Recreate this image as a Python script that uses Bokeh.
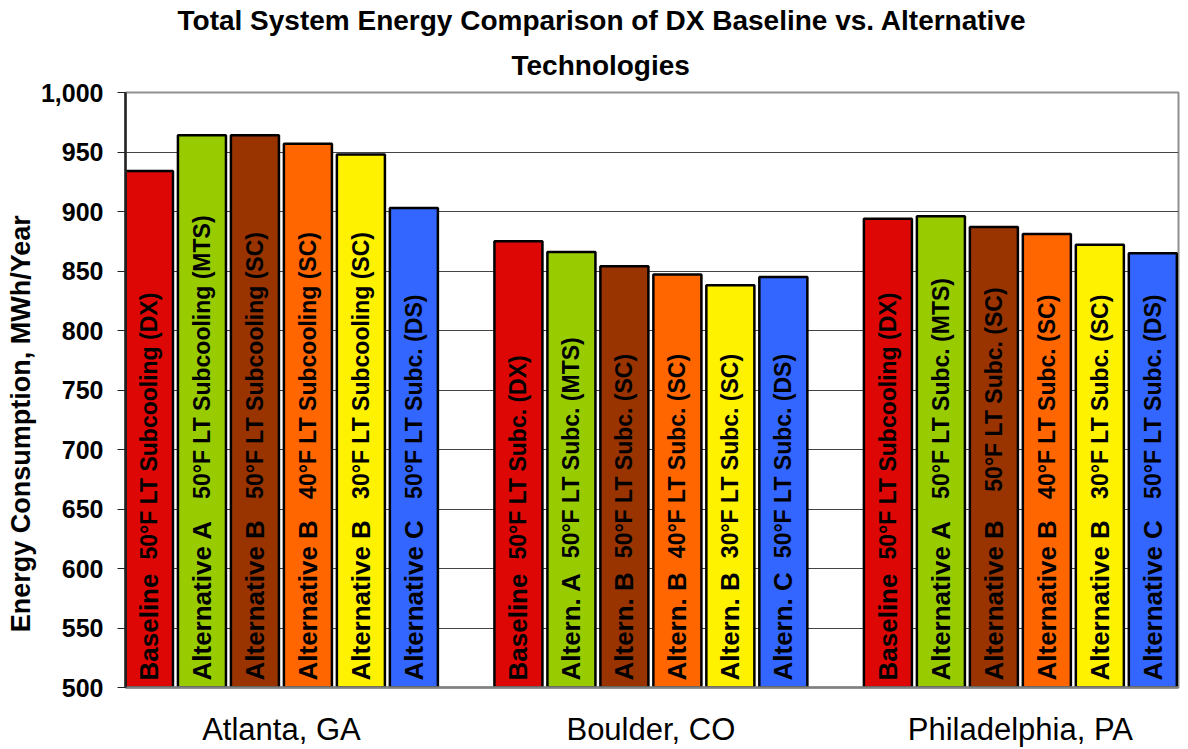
import numpy as np
from bokeh.plotting import figure
from bokeh.models import ColumnDataSource, Range1d, FixedTicker, NumeralTickFormatter, Title
from bokeh.core.properties import value
from bokeh.embed import file_html
from bokeh.resources import INLINE

# ---------------- data ----------------
cities = ["Atlanta, GA", "Boulder, CO", "Philadelphia, PA"]
baseline_dx = [934, 875, 894]
alt_a_mts = [964, 866, 896]
alt_b_50_sc = [964, 854, 887]
alt_b_40_sc = [957, 847, 881]
alt_b_30_sc = [948, 838, 872]
alt_c_ds = [903, 845, 865]
series_values = [baseline_dx, alt_a_mts, alt_b_50_sc, alt_b_40_sc, alt_b_30_sc, alt_c_ds]
series_colors = ["#DD0806", "#99CC00", "#993300", "#FF6600", "#FFF200", "#3366FF"]

main_labels = [
    ["Baseline", "Alternative  A", "Alternative  B", "Alternative  B", "Alternative  B", "Alternative  C"],
    ["Baseline", "Altern. A", "Altern. B", "Altern. B", "Altern. B", "Altern. C"],
    ["Baseline", "Alternative  A", "Alternative   B", "Alternative  B", "Alternative  B", "Alternative  C"],
]
sub_labels = [
    ["50°F LT Subcooling (DX)", "50°F LT Subcooling (MTS)", "50°F LT Subcooling (SC)",
     "40°F LT Subcooling (SC)", "30°F LT Subcooling (SC)", "50°F LT Subc. (DS)"],
    ["50°F LT Subc. (DX)", "50°F LT Subc. (MTS)", "50°F LT Subc. (SC)",
     "40°F LT Subc. (SC)", "30°F LT Subc. (SC)", "50°F LT Subc. (DS)"],
    ["50°F LT Subcooling (DX)", "50°F LT Subc. (MTS)", "50°F LT Subc. (SC)",
     "40°F LT Subc. (SC)", "30°F LT Subc. (SC)", "50°F LT Subc. (DS)"],
]
y_ticks = [500, 550, 600, 650, 700, 750, 800, 850, 900, 950, 1000]
y_title = "Energy Consumption, MWh/Year"
title_line1 = "Total System Energy Comparison of DX Baseline vs. Alternative"
title_line2 = "Technologies"

# ---------------- layout helpers ----------------
FONT = "Liberation Sans"
MAIN_PX = 26
SUB_PX = 23
# Arial-Bold advance widths (per 1000 em) for measuring the main label text
_W = {'A': 722, 'B': 722, 'C': 722, 'a': 556, 'e': 556, 'i': 278, 'l': 278, 'n': 611,
      'r': 389, 's': 556, 't': 333, 'v': 556, '.': 278, ' ': 278}


def text_width(s, px):
    return sum(_W.get(c, 600) for c in s) / 1000.0 * px


n_series = len(series_values)
step = 0.1434
bar_w = 0.13

xs, tops, colors, mains, subs, sub_off = [], [], [], [], [], []
for ci, city in enumerate(cities):
    for si in range(n_series):
        xs.append(ci + (si - (n_series - 1) / 2) * step)
        tops.append(series_values[si][ci])
        colors.append(series_colors[si])
        mains.append(main_labels[ci][si])
        subs.append(sub_labels[ci][si])
        sub_off.append(-(7 + text_width(main_labels[ci][si], MAIN_PX) + 14))

src = ColumnDataSource(dict(x=xs, top=tops, color=colors, main=mains, sub=subs,
                            base=[500] * len(xs), sub_off=sub_off))

p = figure(width=1188, height=749, output_backend="svg", toolbar_location=None,
           x_range=Range1d(-0.422, 2.428), y_range=Range1d(500, 1000),
           min_border_left=125, min_border_right=10, min_border_top=92, min_border_bottom=59)

p.vbar(x="x", width=bar_w, top="top", bottom="base", source=src,
       fill_color="color", line_color="black", line_width=2.5)

p.text(x="x", y="base", text="main", source=src, angle=np.pi / 2, y_offset=-7,
       text_align="left", text_baseline="middle", text_font=value(FONT),
       text_font_style="bold", text_font_size=f"{MAIN_PX}px", text_color="black")
p.text(x="x", y="base", text="sub", source=src, angle=np.pi / 2, y_offset="sub_off",
       text_align="left", text_baseline="middle", text_font=value(FONT),
       text_font_style="bold", text_font_size=f"{SUB_PX}px", text_color="black")

# title (two lines, centred on the page); p.title sits outermost
TITLE_PX = "28px"
p.title.text = title_line1
p.title.align = "left"
p.title.offset = 52
p.title.text_font = FONT
p.title.text_font_style = "bold"
p.title.text_font_size = TITLE_PX
p.title.text_color = "black"
p.title.standoff = 0
p.add_layout(Title(text=title_line2, align="left", offset=386, text_font=FONT,
                   text_font_style="bold", text_font_size=TITLE_PX, text_color="black",
                   standoff=24), "above")

# y axis
ya = p.yaxis[0]
ya.ticker = FixedTicker(ticks=y_ticks)
ya.formatter = NumeralTickFormatter(format="0,0")
ya.axis_label = y_title + "\u00a0" * 9
ya.axis_label_text_font = FONT
ya.axis_label_text_font_style = "bold"
ya.axis_label_text_font_size = "27px"
ya.axis_label_text_color = "black"
ya.axis_label_standoff = 2
ya.major_label_text_font = FONT
ya.major_label_text_font_style = "bold"
ya.major_label_text_font_size = "25px"
ya.major_label_text_color = "black"
ya.major_label_standoff = 14
ya.major_tick_out = 8
ya.major_tick_in = 0
ya.minor_tick_line_color = None
ya.axis_line_color = "#222222"
ya.axis_line_width = 2.5
ya.major_tick_line_color = "#222222"

# x axis
xa = p.xaxis[0]
xa.ticker = FixedTicker(ticks=list(range(len(cities))))
xa.major_label_overrides = {i: c for i, c in enumerate(cities)}
xa.major_label_text_font = FONT
xa.major_label_text_font_size = "31px"
xa.major_label_text_font_style = "normal"
xa.major_label_text_color = "black"
xa.major_label_standoff = 18
xa.major_tick_line_color = None
xa.minor_tick_line_color = None
xa.axis_line_color = "#808080"
xa.axis_line_width = 2.5

p.xgrid.grid_line_color = None
p.ygrid.grid_line_color = "#444444"
p.ygrid.grid_line_width = 1
p.outline_line_color = "#909090"
p.outline_line_width = 2
p.background_fill_color = "white"
p.border_fill_color = "white"

open("out.html", "w").write(file_html(p, INLINE))
